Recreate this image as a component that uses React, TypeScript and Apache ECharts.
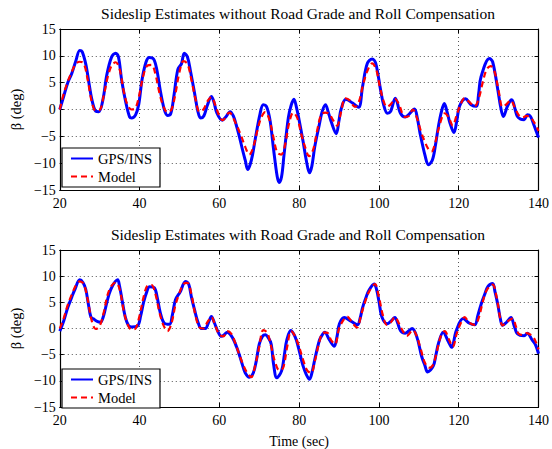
import React, { useEffect, useRef } from "react";
import * as echarts from "echarts";

// ---- Data (time in s, sideslip in deg) ----
const topGpsT = [20,21,22,23,24,25,25.6,26.5,27.3,28,29,29.8,30.8,31.8,33,34,34.7,35.5,36.5,37.5,38,39,39.8,40.6,41.6,42.4,43.5,44.3,45.2,46.2,47,47.8,48.6,49.6,50.5,51.2,52,52.8,53.8,54.6,55.3,56.1,57,58,58.6,59.4,60.7,61.6,62.7,63.5,64.2,65,65.8,66.5,67.1,67.7,68.3,69,70.2,71,71.8,72.7,73.6,74.5,75,75.6,76.2,77.3,78,78.7,79.3,80,81,81.8,82.6,83.2,83.9,85,85.8,86.6,87.3,88,89.3,90,90.5,91.7,93.4,94.9,95.9,97.1,98.3,99.2,100.4,101.2,102.1,102.9,104.1,105.4,106.6,107.4,108.9,109.6,110.3,111.6,112.4,113.4,114.2,114.9,115.7,116.4,117.1,117.8,118.8,119.5,120.2,121.7,123.1,124.4,125,125.6,127.7,128.5,129.8,130.5,131.2,132.2,133.2,134.7,135.5,136.4,137.2,138,138.8,139.5,140];
const topGpsV = [0,2.5,5,6.7,9,11,10.8,8.5,5,2,-0.3,-0.4,1.8,6.5,9.8,10.5,9.8,5.5,1.5,-1.4,-1.6,-1.0,1,5.5,8.8,9.7,9.4,7.5,3.5,0,-1.1,-0.8,2.5,7.5,8.5,10.5,9.8,7,3,-0.3,-1.6,-1.2,0.8,2.4,1.5,-0.7,-2,-1.4,-0.4,-1.2,-2.8,-5,-7.5,-9.5,-11.2,-10.3,-8.5,-5.5,-0.8,0.9,0.6,-2,-7.5,-12.5,-13.6,-12.5,-8.5,-1.5,0.8,1.9,0.5,-2,-6,-9.5,-11.8,-10.5,-7,-3,-0.3,0.9,-0.5,-2.2,-4.5,-2,0,1.9,1.2,0.4,4.3,8.6,9.4,8.6,3.7,0.8,-0.7,-0.4,2.1,-0.7,-1.4,-1.0,0.1,-1.5,-4.4,-8.7,-10.3,-9.4,-6.5,-3.2,-0.3,1.1,-0.5,-2.5,-4.3,-2.2,0.6,2.0,0.9,0.6,3,6.1,9.5,8.9,3.7,0.5,-1.3,0.6,1.8,-1.3,-1.8,-1.9,-1.0,-1.3,-2.8,-4.2,-5.2];

const topModelT = [20,21,22,23,24,25,26,27,28,29,30,31,32,33,34,35,36,37,38,39,40,41,42,43,44,45,46,47,48,49,50,51,52,53,54,55,56,57,58,59,60,60.8,62.5,64,65.5,66.5,67.5,68.5,69.5,70.5,71.5,72.5,73.5,74.5,75.5,76.5,77.5,78.5,79.5,80.5,81.5,82.5,83.5,84.5,85.5,86.5,87.5,88.5,89.5,90.5,91.5,92.5,94,95,96,97,98.3,99.3,100.3,101.2,102,103,104,105,106.5,107.5,108.5,109.5,110.5,111.5,112.5,113.2,114,115,116.5,117.5,118.5,119.5,120.5,121.5,122.5,124,125,126,127,128,129,130,131,132,133,134,135,136,137,138,139,140];
const topModelV = [0,3,5.2,7,8.5,8.9,8.6,5.5,1.5,-0.2,-0.1,2.5,6,8.2,8.8,7.5,3.5,0.8,0,0.3,3,6.5,8.2,8.3,6.5,3,0.5,-0.5,0,3,7,9,8.5,5.5,2,-0.4,0,1.5,2.3,0.8,-1.2,-2,-0.6,-2.4,-5,-7,-8.4,-7,-4,-1.5,-0.5,-1.8,-5,-8,-8.4,-6.5,-2.5,-0.6,-1.5,-4.5,-7,-8.7,-7.5,-4,-1,-0.6,-0.8,-2,-3,-0.5,2.1,1.8,0.5,1.5,4.5,7,8.6,7.5,4,1.5,0.5,1,2,1,-1.4,-1.2,0,-1.5,-4,-6,-7.5,-7.8,-6.5,-3.5,-0.7,-1.5,-3,-1,1,2.1,1.5,0.6,2,5,7.5,8.1,7,3.5,0.5,1,1.7,0.5,-1,-1.5,-1.2,-1.5,-2.5,-4];

const botGpsT = [20,21,22,23,23.8,25,25.8,26.5,27.2,27.8,28.5,29.5,30.2,31,31.8,32.8,34.5,35,35.6,36.4,37.2,38,39.5,40.3,41,41.8,42.5,43.7,44.4,45.2,46.2,47.5,48.2,49,50.2,51.5,52.3,53,53.8,54.6,55.5,56.5,57.3,58,58.8,59.6,60.5,61.2,62,62.8,63.6,64.3,65,65.8,66.5,67.5,68.5,69.3,70,70.8,71.5,72.3,73,73.6,74.4,75.6,76.3,76.9,77.9,78.6,79.3,80.2,81,81.8,82.6,83.2,83.9,85.1,85.8,86.4,87.6,88.8,89.5,90.1,91.3,93,94.6,95.3,95.9,96.8,97.5,98.8,99.4,100,100.8,102.1,103,104,104.7,105.4,106.6,108.3,109.5,110.7,111.5,112.2,113.6,114.3,114.9,116.1,117.4,118.2,119.4,121.1,122.7,124,124.8,125.6,126.5,127.3,128.5,129.1,129.8,130.4,131,132,133.1,133.9,134.7,136.4,137.2,138.4,139.3,140];
const botGpsV = [-0.5,1.5,4,6,7.5,9.3,8.8,7.5,4.5,2.2,1.8,1.3,1.2,2.5,5,7.5,9.3,8,5.5,2.2,0.6,0.3,0.5,2.5,5,7,8,7.8,6,3,1.0,0.8,2.5,5.5,7,9,8.5,6,3.5,1.3,0,0,1.2,2.3,1,-0.5,-1.5,-1.2,-0.7,-1.2,-2.2,-3.5,-5,-7,-8.5,-9.3,-8.5,-6,-3,-1.5,-1.2,-1.8,-3,-6.9,-9.4,-8.1,-5,-2.2,-0.4,-1,-2.2,-4.8,-7.2,-8.8,-9.7,-8.5,-6,-2.2,-1.2,-0.7,-2.2,-3.4,-1.5,0.9,2.1,1.4,0.7,2,4,6,7.3,8.5,7.5,5.2,2.1,0.9,1.4,2.1,1,-0.4,-0.9,0,-1.6,-5.3,-7,-8.3,-7.2,-5,-2.9,-0.7,-2.5,-3.6,-0.4,1.9,1.0,0.7,2.5,4.6,6.5,8,8.6,7,4.6,2,0.6,1.2,2.1,0.5,-1.0,-1.4,-0.9,-2.2,-3.2,-4.8];

const botModelT = [20,21,22,23,24,25,26,27,28,29,30,31,32,33,34,35,36,37,38,39,40,41,42,43,44,45,46,47,48,49,50,51,52,53,54,55,56,57,58,59,60,61,62,63,64,65,66,67,68,69,70,71,72,73,74,75,76,77,78,79,80,81,82,83,84,85,86,87,88,89,90,91,92,93,94,94.6,95.5,96.5,97.5,99,100,101,102,103,104,105,106,107,108.5,109.5,110.5,111.5,112.5,113.5,114.5,115.5,116.5,117.5,118.5,119.5,120.5,121.5,122.5,124,125,126,127,128.5,129.5,130.5,131,132,133.5,134.3,135,136,137,138.5,139.3,140];
const botModelV = [0,2,4.5,6.5,8.2,9,8.5,5.5,1.5,-0.1,0.5,3,6.5,8.2,8.8,7.5,3.5,0.8,-0.2,0,2.5,6,8.2,8.3,6.5,3,0.6,-0.5,1,4.5,6.8,8.5,8.7,6.5,2.5,0.2,0,1.2,2.2,0.5,-1.2,-1.5,-0.5,-1,-2.8,-5,-7,-8.5,-9.3,-7,-3.5,-0.3,-0.8,-3.5,-6.5,-8,-7.5,-3.5,-0.5,-1.5,-3.5,-6,-8,-8.5,-6,-2.8,-0.8,-0.8,-2.2,-3,0,1.5,2.3,1.5,0.5,0.2,2.5,5,7,8.5,6,2.5,0.7,1.2,2.2,1,-0.5,-1.4,-0.3,-1.5,-4,-6.5,-7.5,-7,-4.5,-1.5,-0.5,-2,-3.5,-1,1,2.2,1.2,0.7,2,5,7.3,8.4,6,1.5,0.6,1.2,1.9,0.5,-1,-1.2,-0.9,-1.5,-2.5,-4];

const xTicks = { min: 20, max: 140, interval: 20 };
const yTicks = { min: -15, max: 15, interval: 5 };
const titles = [
  "Sideslip Estimates without Road Grade and Roll Compensation",
  "Sideslip Estimates with Road Grade and Roll Compensation",
];
const seriesNames = ["GPS/INS", "Model"];
const yLabel = "\u03b2 (deg)";
const xLabel = "Time (sec)";

const FONT = "'Liberation Serif', 'Times New Roman', serif";
const zip = (t: number[], v: number[]) => t.map((x, i) => [x, v[i]]);

const grids = [
  { left: 56, top: 29, width: 484, height: 161 },
  { left: 56, top: 250, width: 484, height: 161 },
];

export default function App() {
  const ref = useRef<HTMLDivElement>(null);
  useEffect(() => {
    if (!ref.current) return;
    const chart = echarts.init(ref.current, undefined, { renderer: "svg" });
    const fmt = (v: number) => (v < 0 ? "\u2212" + Math.abs(v) : String(v));
    const line = { show: true, onZero: false, lineStyle: { color: "#000", width: 1.2 } };
    const tick = { show: true, inside: true, length: 4, lineStyle: { color: "#000" } };
    const xAxes: any[] = [];
    const yAxes: any[] = [];
    grids.forEach((_, gi) => {
      xAxes.push({
        type: "value", gridIndex: gi, ...xTicks, position: "bottom",
        name: gi === 1 ? xLabel : "", nameLocation: "middle", nameGap: 27,
        nameTextStyle: { fontFamily: FONT, fontSize: 14, color: "#000" },
        axisLine: line, axisTick: tick,
        axisLabel: { fontFamily: FONT, fontSize: 14, color: "#000", margin: 6, formatter: fmt },
        splitLine: { show: true, lineStyle: { color: "#555", type: [1, 3], width: 1 } },
      });
      xAxes.push({
        type: "value", gridIndex: gi, ...xTicks, position: "top",
        axisLine: line, axisTick: tick,
        axisLabel: { show: false }, splitLine: { show: false },
      });
      yAxes.push({
        type: "value", gridIndex: gi, ...yTicks, position: "left",
        name: yLabel, nameLocation: "middle", nameGap: 36, nameRotate: 90,
        nameTextStyle: { fontFamily: FONT, fontSize: 14.5, color: "#000" },
        axisLine: line, axisTick: tick,
        axisLabel: { fontFamily: FONT, fontSize: 14, color: "#000", margin: 4, formatter: fmt },
        splitLine: { show: true, lineStyle: { color: "#555", type: [1, 3], width: 1 } },
      });
      yAxes.push({
        type: "value", gridIndex: gi, ...yTicks, position: "right",
        axisLine: line, axisTick: tick,
        axisLabel: { show: false }, splitLine: { show: false },
      });
    });
    const mk = (name: string, gi: number, data: number[][], isModel: boolean) => ({
      type: "line", name, xAxisIndex: gi * 2, yAxisIndex: gi * 2, data,
      showSymbol: false, symbol: "none", smooth: 0.35,
      lineStyle: isModel
        ? { color: "#ff0000", width: 2.2, type: [6, 4] }
        : { color: "#0000ff", width: 3 },
      itemStyle: { color: isModel ? "#ff0000" : "#0000ff" },
      z: isModel ? 3 : 2,
    });
    const legendBase = {
      orient: "vertical", left: 62, data: seriesNames,
      itemWidth: 22, itemHeight: 14, itemGap: 3, padding: [3, 8, 3, 8],
      backgroundColor: "#fff", borderColor: "#000", borderWidth: 1.2,
      itemStyle: { opacity: 0, borderWidth: 0 },
      textStyle: { fontFamily: FONT, fontSize: 14.5, color: "#000" },
      selectedMode: false,
    };
    chart.setOption({
      animation: false,
      backgroundColor: "#fff",
      grid: grids.map((g) => ({ ...g, show: false, containLabel: false })),
      xAxis: xAxes,
      yAxis: yAxes,
      legend: [
        { ...legendBase, top: 148 },
        { ...legendBase, top: 369 },
      ],
      graphic: titles.map((t, i) => ({
        type: "text", x: 298, y: i === 0 ? 13 : 234,
        style: { text: t, fontFamily: FONT, fontSize: 15.5, fill: "#000", align: "center", verticalAlign: "middle" },
      })),
      series: [
        mk(seriesNames[0], 0, zip(topGpsT, topGpsV), false),
        mk(seriesNames[1], 0, zip(topModelT, topModelV), true),
        mk(seriesNames[0], 1, zip(botGpsT, botGpsV), false),
        mk(seriesNames[1], 1, zip(botModelT, botModelV), true),
      ],
    });
    return () => chart.dispose();
  }, []);
  return (
    <div
      ref={ref}
      style={{ position: "fixed", left: 0, top: 0, width: 552, height: 449, background: "#fff" }}
    />
  );
}
